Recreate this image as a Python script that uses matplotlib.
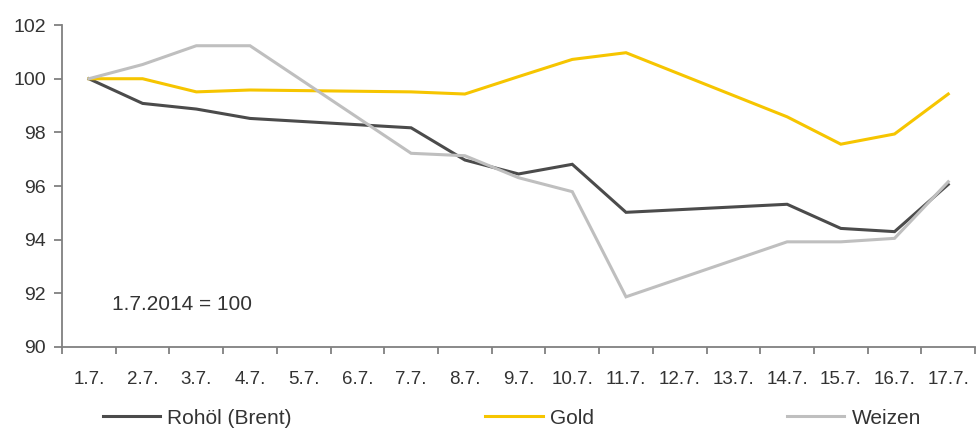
import numpy as np
import matplotlib.pyplot as plt
from matplotlib.ticker import FixedLocator

plt.rcParams['font.family'] = ['Liberation Sans', 'DejaVu Sans']

# trading days only; weekends (5./6.7., 12./13.7.) are gaps that the lines bridge
days = ['1.7.', '2.7.', '3.7.', '4.7.', '5.7.', '6.7.', '7.7.', '8.7.', '9.7.',
        '10.7.', '11.7.', '12.7.', '13.7.', '14.7.', '15.7.', '16.7.', '17.7.']
nan = np.nan
rohoel = [100, 99.08, 98.87, 98.52, nan, nan, 98.17, 96.97, 96.45,
          96.81, 95.02, nan, nan, 95.32, 94.42, 94.30, 96.06]
gold = [100, 100.0, 99.51, 99.58, nan, nan, 99.51, 99.43, 100.08,
        100.72, 100.97, nan, nan, 98.58, 97.56, 97.94, 99.43]
weizen = [100, 100.53, 101.23, 101.23, nan, nan, 97.22, 97.13, 96.31,
          95.79, 91.87, nan, nan, 93.92, 93.92, 94.05, 96.16]

series = [
    ('Rohöl (Brent)', rohoel, '#4b4b4b'),
    ('Gold', gold, '#f6c500'),
    ('Weizen', weizen, '#bfbfbf'),
]

fig = plt.figure(figsize=(9.8, 4.4), dpi=100)
ax = fig.add_axes([0.0633, 0.2114, 0.9317, 0.7316])

x = np.arange(len(days))
for name, vals, col in series:
    v = np.array(vals, dtype=float)
    ok = ~np.isnan(v)
    ax.plot(x[ok], v[ok], color=col, lw=2.2, label=name, solid_joinstyle='miter')

ax.set_xlim(-0.5, len(days) - 0.5)
ax.set_ylim(90, 102)
ax.set_yticks(np.arange(90, 103, 2))
ax.set_xticks(x)
ax.set_xticklabels(days)
ax.xaxis.set_minor_locator(FixedLocator(np.arange(-0.5, len(days), 1.0)))

for s in ['top', 'right']:
    ax.spines[s].set_visible(False)
for s in ['left', 'bottom']:
    ax.spines[s].set_color('#808080')
    ax.spines[s].set_linewidth(1.3)

ax.tick_params(axis='x', which='major', length=0, pad=17, labelsize=13.5, labelcolor='#333333')
ax.tick_params(axis='x', which='minor', length=5, width=1.3, color='#808080', direction='out')
ax.tick_params(axis='y', length=6, width=1.3, color='#808080', pad=5.5, labelsize=14,
               labelcolor='#333333')

ax.text(0.43, 91.6, '1.7.2014 = 100', fontsize=15, color='#333333', va='center', ha='left')

leg = ax.legend(loc='center left', bbox_to_anchor=(103 / 980, 1 - 418 / 440),
                bbox_transform=fig.transFigure, ncol=3, frameon=False,
                fontsize=15, handlelength=2.74, handletextpad=0.34,
                columnspacing=9.3, borderpad=0, borderaxespad=0)
for t in leg.get_texts():
    t.set_color('#333333')

fig.savefig('out.png', dpi=100)
